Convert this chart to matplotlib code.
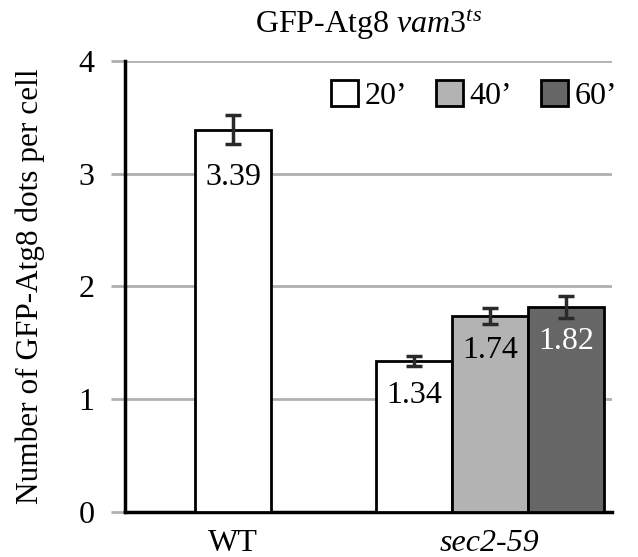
import matplotlib
matplotlib.use("Agg")
import matplotlib.pyplot as plt
from matplotlib.patches import Patch
import numpy as np

plt.rcParams['font.family'] = ['Liberation Serif', 'DejaVu Serif']
plt.rcParams['mathtext.fontset'] = 'custom'
plt.rcParams['mathtext.rm'] = 'Liberation Serif'
plt.rcParams['mathtext.it'] = 'Liberation Serif:italic'

groups = ['WT', 'sec2-59']
series = ['20\u2019', '40\u2019', '60\u2019']
wt_values = [3.39]
wt_errors = [0.13]
sec_values = [1.34, 1.74, 1.82]
sec_errors = [0.045, 0.07, 0.10]
colors = ['#ffffff', '#b3b3b3', '#666666']
label_colors = ['black', 'black', 'white']

fig = plt.figure(figsize=(6.38, 5.57), dpi=100)
ax = fig.add_axes([0.196, 0.0808, 0.763, 0.8097])

w = 0.296
fs = 23
err_kw = dict(ecolor='#2a2a2a', elinewidth=2.5, capsize=6, capthick=2.5)

# WT bar
ax.bar(0, wt_values[0], width=w, color=colors[0], edgecolor='black', linewidth=2,
       yerr=wt_errors[0], error_kw=err_kw, zorder=3)
ax.text(0, wt_values[0] - 0.42, f'{wt_values[0]:.2f}', ha='center', va='center',
        fontsize=fs, color=label_colors[0], zorder=4)

offsets = [-w, 0, w]
for i in range(3):
    x = 1 + offsets[i]
    ax.bar(x, sec_values[i], width=w, color=colors[i], edgecolor='black', linewidth=2,
           yerr=sec_errors[i], error_kw=err_kw, zorder=3)
    ax.text(x, sec_values[i] - 0.31, f'{sec_values[i]:.2f}', ha='center', va='center',
            fontsize=fs, color=label_colors[i], zorder=4)

ax.set_ylim(0, 4)
ax.set_xlim(-0.42, 1.475)
ax.set_yticks([0, 1, 2, 3, 4])
ax.set_xticks([0, 1])
ax.set_xticklabels(groups, fontsize=fs)
ax.get_xticklabels()[1].set_style('italic')
ax.tick_params(axis='x', length=0, pad=12)
ax.tick_params(axis='y', labelsize=fs, length=10, width=2, color='#b0b0b0', pad=12)
ax.yaxis.grid(True, color='#b0b0b0', linewidth=2)
ax.set_axisbelow(True)
for s in ['top', 'right']:
    ax.spines[s].set_visible(False)
ax.spines['left'].set_linewidth(2.5)
ax.spines['bottom'].set_linewidth(2.5)

ax.set_ylabel('Number of GFP-Atg8 dots per cell', fontsize=22.5, labelpad=24)
ax.set_title('GFP-Atg8 $\\mathit{vam3}^{\\mathit{ts}}$', fontsize=fs, pad=20)

handles = [Patch(facecolor=colors[i], edgecolor='black', linewidth=2) for i in range(3)]
leg = ax.legend(handles, series, ncol=3, loc='upper right', frameon=False, fontsize=fs,
                handlelength=0.85, handleheight=0.85, handletextpad=0.2, columnspacing=0.9,
                bbox_to_anchor=(1.05, 1.0), borderaxespad=0.2)

fig.savefig('out.png', dpi=100)
